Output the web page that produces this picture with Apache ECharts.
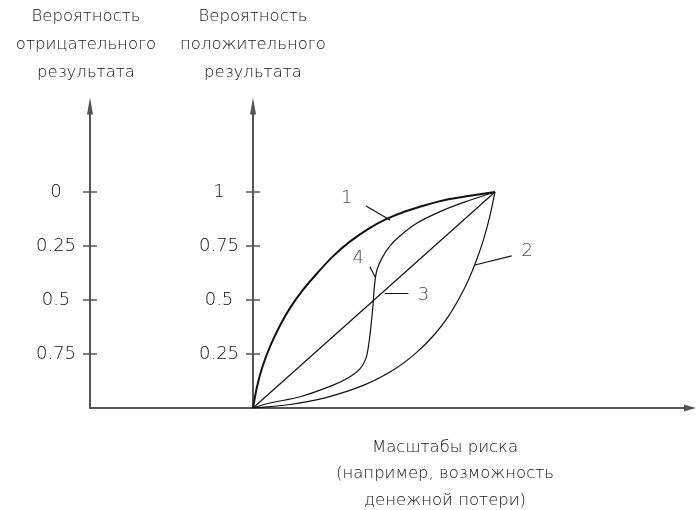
<!DOCTYPE html>
<html lang="ru">
<head>
    <meta charset="UTF-8">
    <title>Вероятность результата и масштабы риска</title>
    <script src="https://cdn.jsdelivr.net/npm/echarts@6/dist/echarts.min.js"></script>
    <style>
        html, body { margin: 0; padding: 0; background: #fff; }
        #main { width: 696px; height: 510px; }
    </style>
</head>
<body>
<div id="main"></div>
<script>
    // деления осей
    var posTicks = [0.25, 0.5, 0.75, 1];
    var negTicks = [0, 0.25, 0.5, 0.75];

    // кривые (x - масштаб риска, y - вероятность положительного результата)
    var curve1 = [[0, 0], [0.017, 0.101], [0.041, 0.198], [0.073, 0.291], [0.111, 0.381], [0.156, 0.468],
        [0.208, 0.549], [0.266, 0.625], [0.330, 0.702], [0.399, 0.769], [0.472, 0.826], [0.550, 0.874],
        [0.631, 0.911], [0.715, 0.940], [0.802, 0.965], [0.890, 0.981], [1, 1]];
    var curve2 = [[0, 0], [0.145, 0.015], [0.298, 0.047], [0.463, 0.108], [0.583, 0.178], [0.674, 0.255],
        [0.748, 0.338], [0.806, 0.422], [0.855, 0.514], [0.893, 0.600], [0.926, 0.692], [0.955, 0.789],
        [0.979, 0.889], [1, 1]];
    var curve3 = [[0, 0], [1, 1]];
    var curve4 = [[0, 0], [0.070, 0.023], [0.194, 0.052], [0.331, 0.106], [0.401, 0.145], [0.442, 0.181],
        [0.467, 0.231], [0.479, 0.301], [0.488, 0.384], [0.496, 0.477], [0.502, 0.569], [0.512, 0.639],
        [0.533, 0.694], [0.566, 0.750], [0.607, 0.796], [0.678, 0.856], [0.773, 0.909], [0.876, 0.954], [1, 1]];

    // номера кривых и выноски к ним
    var curveLabels = ['1', '4', '3', '2'];
    var labelAt = [[0.387, 0.971], [0.435, 0.693], [0.704, 0.523], [1.133, 0.727]];
    var leaders = [
        [[0.467, 0.935], [0.566, 0.870]],
        [[0.483, 0.654], [0.504, 0.608]],
        [[0.545, 0.531], [0.642, 0.531]],
        [[1.069, 0.704], [0.917, 0.662]]
    ];

    var chart = echarts.init(document.getElementById('main'));

    var axisColor = '#555';
    var curveColor = '#111';
    var textColor = '#111';

    var curveStyle = function (data, width, smooth) {
        return {
            type: 'line',
            data: data,
            smooth: smooth,
            showSymbol: false,
            symbol: 'none',
            lineStyle: { color: curveColor, width: width },
            xAxisIndex: 0,
            yAxisIndex: 0,
            silent: true
        };
    };

    var option = {
        animation: false,
        textStyle: { fontFamily: 'DejaVu Sans', fontWeight: 200 },
        grid: { left: 90, right: 6, top: 106, bottom: 102, containLabel: false, outerBoundsMode: 'none' },
        xAxis: [{
            type: 'value',
            min: -0.6736,
            max: 1.8058,
            position: 'bottom',
            axisLine: {
                onZero: false,
                symbol: ['none', 'triangle'],
                symbolSize: [7, 12],
                lineStyle: { color: axisColor, width: 2 }
            },
            axisTick: { show: false },
            axisLabel: { show: false },
            splitLine: { show: false }
        }],
        yAxis: [
            {   // вероятность положительного результата: подписи и деления наружу
                type: 'value', min: 0, max: 1.3981, position: 'left', offset: -163,
                name: 'Вероятность\nположительного\nрезультата',
                nameLocation: 'end',
                nameGap: 19,
                nameTextStyle: { color: textColor, fontSize: 16.5, lineHeight: 28, align: 'center' },
                axisLine: { show: false, onZero: false },
                axisTick: { show: true, customValues: posTicks, length: 7, lineStyle: { color: axisColor, width: 1.5 } },
                axisLabel: { show: true, customValues: posTicks, margin: 34, align: 'center', fontSize: 18, color: textColor },
                splitLine: { show: false }
            },
            {   // та же ось: линия со стрелкой и деления внутрь
                type: 'value', min: 0, max: 1.3981, position: 'left', offset: -163,
                axisLine: {
                    show: true, onZero: false,
                    symbol: ['none', 'triangle'], symbolSize: [6, 17],
                    lineStyle: { color: axisColor, width: 2 }
                },
                axisTick: { show: true, inside: true, customValues: posTicks, length: 7, lineStyle: { color: axisColor, width: 1.5 } },
                axisLabel: { show: false },
                splitLine: { show: false }
            },
            {   // вероятность отрицательного результата (обратная шкала)
                type: 'value', inverse: true, min: -0.3981, max: 1, position: 'left', offset: 0,
                axisLine: { show: false, onZero: false },
                axisTick: { show: true, customValues: negTicks, length: 7, lineStyle: { color: axisColor, width: 1.5 } },
                axisLabel: { show: true, customValues: negTicks, margin: 34, align: 'center', fontSize: 18, color: textColor },
                splitLine: { show: false }
            },
            {   // левая ось: линия со стрелкой, заголовок и деления внутрь
                type: 'value', min: 0, max: 1.3981, position: 'left', offset: 0,
                name: 'Вероятность\nотрицательного\nрезультата',
                nameLocation: 'end',
                nameGap: 19,
                nameTextStyle: { color: textColor, fontSize: 16.5, lineHeight: 28, align: 'center', padding: [0, 8, 0, 0] },
                axisLine: {
                    show: true, onZero: false,
                    symbol: ['none', 'triangle'], symbolSize: [6, 17],
                    lineStyle: { color: axisColor, width: 2 }
                },
                axisTick: { show: true, inside: true, customValues: posTicks, length: 7, lineStyle: { color: axisColor, width: 1.5 } },
                axisLabel: { show: false },
                splitLine: { show: false }
            }
        ],
        graphic: [{
            type: 'text',
            x: 445,
            y: 434,
            silent: true,
            style: {
                text: 'Масштабы риска\n(например, возможность\nденежной потери)',
                textAlign: 'center',
                textVerticalAlign: 'top',
                fontFamily: 'DejaVu Sans',
                fontWeight: 200,
                fontSize: 16.5,
                lineHeight: 26.5,
                fill: textColor
            }
        }],
        series: [
            curveStyle(curve1, 2, 0.3),
            curveStyle(curve2, 1.2, 0.3),
            curveStyle(curve3, 1.2, false),
            curveStyle(curve4, 1.2, 0.3),
            {
                type: 'lines',
                coordinateSystem: 'cartesian2d',
                silent: true,
                lineStyle: { color: curveColor, width: 1.2, opacity: 1 },
                data: leaders.map(function (c) { return { coords: c }; })
            },
            {
                type: 'scatter',
                silent: true,
                symbolSize: 0,
                data: labelAt.map(function (p, i) { return [p[0], p[1], curveLabels[i]]; }),
                label: {
                    show: true,
                    position: 'inside',
                    formatter: function (p) { return p.value[2]; },
                    fontSize: 18,
                    color: textColor
                }
            }
        ]
    };
    chart.setOption(option);
</script>
</body>
</html>
